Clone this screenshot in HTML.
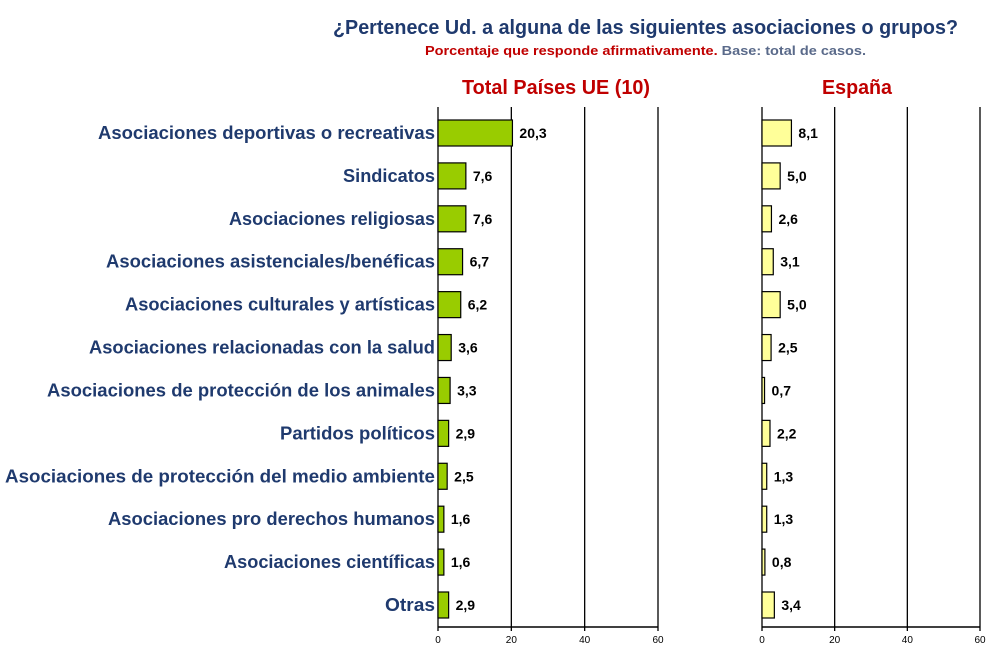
<!DOCTYPE html>
<html><head><meta charset="utf-8"><style>
body{margin:0;background:#fff;}
svg{display:block;font-family:"Liberation Sans",sans-serif;font-weight:bold;}
</style></head><body>
<svg id="c" width="993" height="659">
<text x="333" y="34" textLength="625" lengthAdjust="spacingAndGlyphs" font-size="20" fill="#1f3a6e">¿Pertenece Ud. a alguna de las siguientes asociaciones o grupos?</text>
<text x="425" y="55" textLength="441" lengthAdjust="spacingAndGlyphs" font-size="13"><tspan fill="#c00000">Porcentaje que responde afirmativamente. </tspan><tspan fill="#5a6a8a">Base: total de casos.</tspan></text>
<text x="462" y="94" textLength="188" lengthAdjust="spacingAndGlyphs" font-size="20" fill="#c00000">Total Países UE (10)</text>
<text x="822" y="94" textLength="70" lengthAdjust="spacingAndGlyphs" font-size="20" fill="#c00000">España</text>
<g id="g"></g>
</svg>
<script>
const categories=["Asociaciones deportivas o recreativas","Sindicatos","Asociaciones religiosas","Asociaciones asistenciales/benéficas","Asociaciones culturales y artísticas","Asociaciones relacionadas con la salud","Asociaciones de protección de los animales","Partidos políticos","Asociaciones de protección del medio ambiente","Asociaciones pro derechos humanos","Asociaciones científicas","Otras"];
const euValues=[20.3,7.6,7.6,6.7,6.2,3.6,3.3,2.9,2.5,1.6,1.6,2.9];
const esValues=[8.1,5.0,2.6,3.1,5.0,2.5,0.7,2.2,1.3,1.3,0.8,3.4];
const ticks=[0,20,40,60];
const labelLeft=[98,343,229,106,125,89,47,280,5,108,224,385];
const NS="http://www.w3.org/2000/svg",g=document.getElementById('g');
function el(t,a,txt){const e=document.createElementNS(NS,t);for(const k in a)e.setAttribute(k,a[k]);if(txt!==undefined)e.textContent=txt;g.appendChild(e);return e;}
const plotTop=107,plotBottom=627,y0=133,step=(605-133)/11,bh=26;
const yPos=i=>y0+i*step;
const fmt=v=>v.toFixed(1).replace('.',',');
function panel(x0,x60,vals,fill,name){
  const sx=v=>x0+(x60-x0)*v/60;
  ticks.forEach(t=>{
    const l=el('line',{x1:sx(t),x2:sx(t),y1:plotTop,y2:plotBottom+4,stroke:'#000','stroke-width':1.3});
    
    
    const tx=el('text',{x:sx(t),y:plotBottom+16,'font-size':10,'font-weight':'normal','text-anchor':'middle',fill:'#000'},String(t));
    
    
  });
  const ax=el('line',{x1:x0,x2:x60,y1:plotBottom,y2:plotBottom,stroke:'#000','stroke-width':1.5});
  
  
  vals.forEach((v,i)=>{
    const y=yPos(i);
    const r=el('rect',{x:x0,y:y-bh/2,width:sx(v)-x0,height:bh,fill:fill,stroke:'#000','stroke-width':1.2});
    
    
    const t=el('text',{x:sx(v)+7,y:y+5,'font-size':14,fill:'#000'},fmt(v));
    
    
  });
}
categories.forEach((c,i)=>{
  const t=el('text',{x:labelLeft[i],y:yPos(i)+6,'font-size':18,fill:'#1f3a6e',textLength:435-labelLeft[i],lengthAdjust:'spacingAndGlyphs'},c);
  
  
});
panel(438,658,euValues,'#99cc00','eu');
panel(762,980,esValues,'#ffff99','spain');
</script>
</body></html>
